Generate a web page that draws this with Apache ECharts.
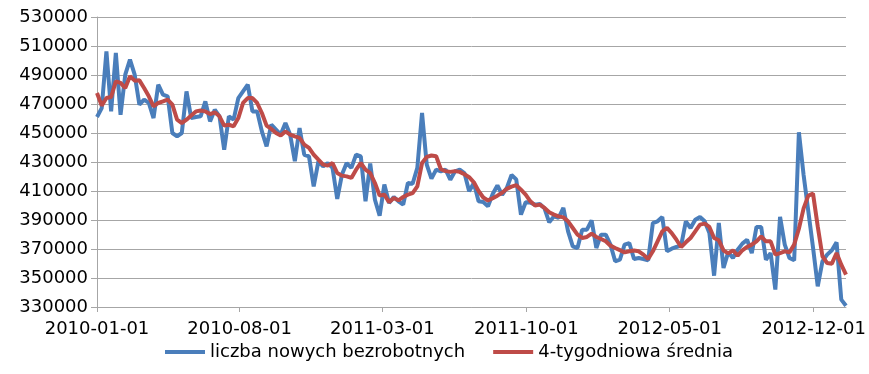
<!DOCTYPE html>
<html lang="pl">
<head>
  <meta charset="UTF-8">
  <title>Nowi bezrobotni</title>
  <script src="https://cdn.jsdelivr.net/npm/echarts@6.0.0/dist/echarts.min.js"></script>
  <style>
    html, body { margin: 0; padding: 0; background: #fff; }
    #chart { width: 869px; height: 374px; }
  </style>
</head>
<body>
  <div id="chart"></div>
  <script>
    // weekly observations, first one on 2010-01-01
    const firstWeek = [2010, 0, 1];
    const weekCount = 160;

    const tickDates = ['2010-01-01', '2010-08-01', '2011-03-01', '2011-10-01', '2012-05-01', '2012-12-01'];

    // liczba nowych bezrobotnych (weekly)
    const newUnemployed = [
      461000, 467200, 506300, 464900, 505200, 462600, 490200, 500600, 490200, 469500,
      473000, 470700, 460300, 483300, 476400, 475300, 450000, 447700, 450000, 478700,
      460300, 461000, 461500, 471800, 458000, 466100, 461500, 438500, 461500, 459200,
      474100, 478700, 483300, 464900, 464900, 451100, 440800, 455700, 452300, 448900,
      456900, 448900, 430500, 453400, 435000, 433900, 413200, 430500, 427000, 429300,
      425900, 404500, 421300, 429300, 425900, 435100, 433900, 402900, 428900, 404000,
      393000, 414400, 401700, 405900, 402900, 400600, 415500, 415000, 425900, 463800,
      428200, 418500, 424700, 423600, 424700, 417800, 423600, 424700, 422400, 409800,
      415500, 402900, 402400, 399400, 407900, 413900, 407400, 412100, 421000, 418000,
      393700, 402200, 402000, 400600, 401000, 398000, 388400, 392500, 391400, 398300,
      382200, 371800, 370700, 383300, 383300, 389800, 370700, 379900, 379900, 373000,
      361500, 362600, 373000, 374100, 363100, 363800, 363100, 362200, 387900, 389100,
      392100, 368400, 370200, 371400, 372300, 389100, 384500, 390200, 392100, 389100,
      381000, 351600, 387900, 356900, 367800, 363800, 369500, 373700, 376400, 367200,
      385200, 385200, 362600, 367200, 342000, 392100, 373000, 363800, 362200, 450500,
      421000, 396000, 371000, 344300, 361500, 366100, 369100, 374600, 335100, 330900
    ];

    // 4-tygodniowa średnia
    const fourWeekAvg = [
      477600, 468900, 474100, 474800, 485600, 484500, 481000, 489100, 486100, 486300,
      481000, 475300, 468400, 470700, 471800, 473000, 469500, 459200, 456900, 459200,
      462000, 464900, 465500, 464900, 463100, 464300, 461500, 455100, 455700, 454600,
      460300, 470700, 474100, 474100, 470700, 463800, 455100, 452800, 450000, 448200,
      451100, 448900, 447700, 446600, 442000, 439700, 435100, 431600, 428200, 427500,
      429300, 422400, 420600, 420100, 419000, 424700, 429300, 424700, 422400, 415500,
      406800, 407500, 402200, 405200, 403600, 405900, 407500, 408500, 413200, 429300,
      433500, 434500, 434000, 425000, 423700, 423200, 423700, 423200, 421500, 419500,
      416000, 410000, 405500, 403500, 405000, 406800, 408800, 411500, 413000, 414000,
      410900, 407500, 402900, 399900, 400600, 398300, 395300, 393700, 392500, 391800,
      389100, 384500, 379900, 377600, 378300, 380600, 378300, 376900, 375300, 372300,
      370700, 369200, 367700, 368400, 368900, 368400, 366100, 363100, 368400, 375300,
      382200, 384500, 381000, 376400, 371400, 374600, 377600, 382200, 386800, 387500,
      385200, 377600, 376000, 369000, 367000, 369100, 365400, 369100, 371400, 373000,
      375300, 378700, 375300, 375300, 366100, 367200, 368400, 367700, 373000, 384000,
      398000, 406800, 408200, 385600, 365000, 360300, 359900, 367200, 359200, 352300
    ];

    // x axis runs in days counted from the first week
    const DAY = 24 * 3600 * 1000;
    const start = Date.UTC(firstWeek[0], firstWeek[1], firstWeek[2]);
    const toDay = s => {
      const p = s.split('-').map(Number);
      return Math.round((Date.UTC(p[0], p[1] - 1, p[2]) - start) / DAY);
    };
    const dayLabel = d => new Date(start + d * DAY).toISOString().slice(0, 10);

    const weekDays = [];
    for (let i = 0; i < weekCount; i++) weekDays.push(i * 7);
    const tickDays = tickDates.map(toDay);

    const font = 'DejaVu Sans';
    const gridGray = '#a6a6a6';

    const chart = echarts.init(document.getElementById('chart'));
    chart.setOption({
      animation: false,
      grid: { left: 97, right: 16, top: 17, bottom: 67 },
      legend: {
        left: 160,
        top: 338,
        icon: 'rect',
        itemWidth: 40,
        itemHeight: 4,
        itemGap: 28,
        textStyle: { fontFamily: font, fontSize: 18, color: '#000' },
        data: ['liczba nowych bezrobotnych', '4-tygodniowa średnia']
      },
      xAxis: {
        type: 'value',
        min: 0,
        max: weekDays[weekDays.length - 1],
        axisLine: { lineStyle: { color: gridGray, width: 1 } },
        axisTick: { show: true, length: 5, customValues: tickDays, lineStyle: { color: gridGray } },
        axisLabel: {
          customValues: tickDays,
          margin: 13,
          fontFamily: font,
          fontSize: 18,
          color: '#000',
          formatter: v => dayLabel(v)
        },
        splitLine: { show: false }
      },
      yAxis: {
        type: 'value',
        min: 330000,
        max: 530000,
        interval: 20000,
        axisLine: { show: true, lineStyle: { color: gridGray, width: 1 } },
        axisTick: { show: true, length: 6, lineStyle: { color: gridGray } },
        axisLabel: {
          margin: 9,
          fontFamily: font,
          fontSize: 18,
          color: '#000',
          formatter: v => String(v)
        },
        splitLine: { lineStyle: { color: gridGray, width: 1 } }
      },
      series: [
        {
          name: 'liczba nowych bezrobotnych',
          type: 'line',
          showSymbol: false,
          itemStyle: { color: '#4a7ebb' },
          lineStyle: { color: '#4a7ebb', width: 4 },
          data: weekDays.map((d, i) => [d, newUnemployed[i]])
        },
        {
          name: '4-tygodniowa średnia',
          type: 'line',
          showSymbol: false,
          itemStyle: { color: '#be4b48' },
          lineStyle: { color: '#be4b48', width: 4 },
          data: weekDays.map((d, i) => [d, fourWeekAvg[i]])
        }
      ]
    });
  </script>
</body>
</html>
